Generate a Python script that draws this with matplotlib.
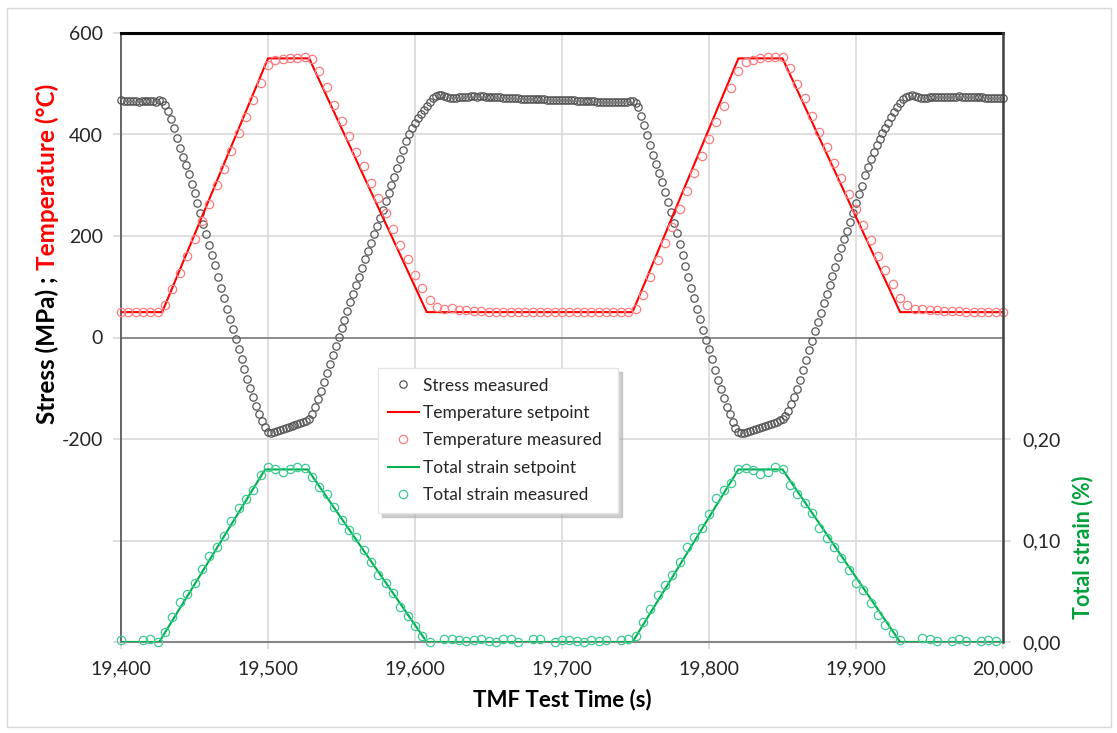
import numpy as np
import matplotlib.pyplot as plt
from matplotlib.patches import Rectangle

plt.rcParams["font.family"] = ["Lato", "DejaVu Sans"]

# ---- setpoints (s, value) ----
temp_set_time = [19400, 19428, 19500, 19528, 19608, 19748, 19820, 19850, 19930, 20000]
temp_set_value = [50, 50, 550, 550, 50, 50, 550, 550, 50, 50]

strain_set_time = [19400, 19426, 19498, 19527, 19608, 19748, 19820, 19850, 19930, 20000]
strain_set_value = [0, 0, 0.17, 0.17, 0, 0, 0.17, 0.17, 0, 0]

# ---- stress measured, one point every 2 s ----
stress_time = np.arange(19400, 20001, 2)
stress_value = [
    # 19400-19426
    467, 466, 466, 466, 466, 466, 465, 466, 466, 466, 466, 466, 465, 467,
    # 19428-19502
    466, 458, 446, 430, 412, 393, 374, 356, 340, 322,
    303, 285, 266, 245, 224, 204, 183, 162, 142, 120,
    98, 78, 57, 37, 17, -3, -23, -43, -62, -82,
    -100, -117, -135, -151, -165, -177, -186, -188,
    # 19504-19528
    -187, -185, -183, -181, -179, -177, -175, -173, -171, -169, -167, -164, -160,
    # 19530-19590
    -151, -137, -122, -106, -88, -70, -52, -34, -16, 1,
    18, 35, 52, 69, 86, 103, 120, 137, 154, 170,
    186, 203, 219, 235, 252, 268, 285, 301, 317, 334, 352,
    # 19592-19624
    370, 387, 400, 412, 423, 432, 441, 449, 457, 465, 471, 475, 477, 477, 475, 473, 472,
    # 19626-19748
    472, 472, 473, 473, 474, 474, 475, 475, 474, 475, 475, 474, 474, 474, 473, 473, 473, 472,
    472, 472, 471, 471, 471, 470, 470, 470, 470, 469, 469, 469, 469, 469, 468, 468, 468, 468, 468, 467,
    467, 467, 467, 467, 466, 466, 466, 466, 466, 466, 466, 465, 465, 465, 465, 465, 465, 465, 465, 465,
    465, 465, 466, 466,
    # 19750-19824
    462, 454, 436, 419, 399, 379, 360, 342, 324, 306,
    287, 267, 247, 226, 206, 184, 163, 141, 119, 98,
    78, 56, 36, 14, -4, -23, -42, -64, -84, -101,
    -119, -137, -151, -166, -178, -186, -188, -188,
    # 19826-19850
    -186, -184, -182, -180, -178, -176, -174, -172, -170, -168, -166, -163, -160,
    # 19852-19874
    -155, -145, -132, -117, -101, -84, -65, -45, -25, -6, 12, 30,
    # 19876-19938
    48, 68, 86, 103, 121, 139, 158, 176, 194, 210, 228, 245, 265, 283, 299, 320,
    336, 352, 366, 379, 391, 403, 413, 423, 434, 444, 454, 462, 470, 474, 476, 478,
    # 19940-20000
    476, 474, 472, 472, 472, 473, 473, 473, 474, 474, 474, 474, 474, 474, 474, 475,
    474, 474, 474, 474, 473, 473, 473, 473, 472, 472, 472, 472, 471, 471, 471,
]

# ---- temperature measured, one point every 5 s ----
temp_time = np.arange(19400, 20001, 5)
temp_value = [
    50, 50, 50, 50, 50, 50,
    64, 95, 128, 161, 194, 230, 264, 300, 333, 367, 402, 434, 467, 502, 536,
    547, 549, 551, 551, 553,
    548, 525, 493, 459, 426, 398, 366, 337, 304, 275, 245, 214, 182, 155, 123, 98, 74, 60,
    56, 58, 55, 54, 52, 52, 51, 51, 51, 50, 50, 50, 50,
    50, 50, 50, 50, 50, 50, 50, 50, 50, 50, 50, 50, 50,
    56, 84, 119, 153, 186, 218, 253, 289, 324, 358, 392, 425, 456, 491, 525,
    543, 547, 551, 553, 553, 553,
    531, 500, 472, 436, 405, 375, 344, 314, 283, 253, 222, 192, 161, 133, 105, 78, 64, 56,
    56, 55, 54, 53, 53, 52, 51, 50, 50, 50, 50, 50,
]

# ---- total strain measured (some samples missing on the flats) ----
strain_time = (
    [19400, 19415, 19420, 19425]
    + list(range(19430, 19611, 5))
    + [19620, 19625, 19630, 19635, 19640, 19645, 19650, 19655, 19660, 19665, 19670,
       19680, 19685, 19695, 19700, 19705, 19710, 19715, 19720, 19725, 19730, 19740, 19745]
    + list(range(19750, 19931, 5))
    + [19945, 19950, 19955, 19965, 19970, 19975, 19985, 19990, 19995]
)
strain_value = [
    0.002, 0.002, 0.003, 0.000,
    0.010, 0.025, 0.039, 0.047, 0.058, 0.072, 0.085, 0.094, 0.104, 0.119, 0.132, 0.141, 0.150, 0.165, 0.172,
    0.170, 0.167, 0.170, 0.172, 0.171,
    0.163, 0.153, 0.146, 0.133, 0.120, 0.110, 0.103, 0.091, 0.079, 0.066, 0.058, 0.048, 0.034, 0.026,
    0.016, 0.006, 0.000,
    0.003, 0.003, 0.002, 0.001, 0.002, 0.003, 0.001, 0.000, 0.003, 0.003, 0.000,
    0.003, 0.003, 0.000, 0.002, 0.002, 0.001, 0.000, 0.002, 0.001, 0.002, 0.002, 0.003,
    0.006, 0.020, 0.033, 0.046, 0.056, 0.066, 0.079, 0.094, 0.103, 0.112, 0.126, 0.142, 0.150, 0.157, 0.170,
    0.171, 0.169, 0.166, 0.167, 0.172, 0.170,
    0.155, 0.146, 0.137, 0.127, 0.112, 0.102, 0.094, 0.083, 0.071, 0.058, 0.051, 0.038, 0.027, 0.017,
    0.009, 0.002,
    0.004, 0.003, 0.001, 0.001, 0.003, 0.001, 0.001, 0.002, 0.001,
]

x_ticks = [19400, 19500, 19600, 19700, 19800, 19900, 20000]
y_ticks = [-600, -400, -200, 0, 200, 400, 600]
y_tick_labels = ["", "", "-200", "0", "200", "400", "600"]
strain_ticks = [0, 0.1, 0.2]
strain_tick_labels = ["0,00", "0,10", "0,20"]

RED = "#ff0000"
GREEN = "#00b050"
TXT = "#262626"
GRID = "#d9d9d9"

W, H = 1117, 733
fig = plt.figure(figsize=(W / 100, H / 100), dpi=100)
fig.patches.append(Rectangle((7 / W, 6 / H), 1104 / W, 719 / H, transform=fig.transFigure,
                             fill=False, edgecolor=GRID, lw=1))

ax = fig.add_axes([121 / W, 1 - 642 / H, 882 / W, 609 / H])
ax2 = ax.twinx()

# =========================
# DATA
# =========================
h_stress, = ax.plot(stress_time, stress_value, "o", ms=5.3, mfc="none", mec="#555555", mew=0.9,
                    clip_on=False, zorder=3)
h_tset, = ax.plot(temp_set_time, temp_set_value, color=RED, lw=1.5, zorder=4)
h_tmeas, = ax.plot(temp_time, temp_value, "o", ms=6, mfc="none", mec="#ff7c80", mew=0.9,
                   clip_on=False, zorder=5)
h_sset, = ax2.plot(strain_set_time, strain_set_value, color=GREEN, lw=1.5, zorder=4)
h_smeas, = ax2.plot(strain_time, strain_value, "o", ms=6, mfc="none", mec="#3ccb92", mew=0.9,
                    clip_on=False, zorder=5)

ax.axhline(0, color="#868686", lw=1.3, zorder=2)

# =========================
# AXES
# =========================
ax.set_xlim(19400, 20000)
ax.set_ylim(-600, 600)
ax2.set_ylim(0, 0.6)

ax.set_xticks(x_ticks)
ax.set_xticklabels([f"{v:,}" for v in x_ticks])
ax.set_yticks(y_ticks)
ax.set_yticklabels(y_tick_labels)
ax2.set_yticks(strain_ticks)
ax2.set_yticklabels(strain_tick_labels)

ax.grid(True, color=GRID, lw=1.2)
ax.set_axisbelow(True)

ax.tick_params(axis="x", direction="out", length=5, width=1.2, color=GRID,
               labelsize=14, labelcolor=TXT, pad=8)
ax.tick_params(axis="y", direction="out", length=6, width=1.2, color=GRID,
               labelsize=14, labelcolor=TXT, pad=7)
ax2.tick_params(axis="y", direction="out", length=6, width=1.2, color=GRID,
                labelsize=14, labelcolor=TXT, pad=8)
ax.yaxis.get_major_ticks()[3].tick1line.set_color("#868686")

for s in ["top", "right", "bottom", "left"]:
    ax2.spines[s].set_visible(False)
ax.spines["right"].set_visible(False)
ax.spines["top"].set_color("black")
ax.spines["top"].set_linewidth(2.2)
ax.spines["left"].set_color("#595959")
ax.spines["left"].set_linewidth(1.3)
ax.spines["bottom"].set_color("#868686")
ax.spines["bottom"].set_linewidth(1.5)
ax2.spines["right"].set_visible(True)
ax2.spines["right"].set_color("#404040")
ax2.spines["right"].set_linewidth(1.8)

# =========================
# LABELS
# =========================
fig.text(562 / W, 1 - 700 / H, "TMF Test Time (s)", ha="center", va="center",
         fontsize=16, fontweight="bold", color="black")
fig.text(1083 / W, 1 - 547 / H, "Total strain (%)", ha="center", va="center", rotation=90,
         fontsize=15.5, fontweight="bold", color="#00a03c")

# two-coloured left label: measure full string, then place both parts
ylab_x, ylab_y = 47 / W, 1 - 254 / H
full = fig.text(ylab_x, ylab_y, "Stress (MPa) ; Temperature (°C)", ha="center", va="center",
                rotation=90, fontsize=17.5, fontweight="bold", alpha=0)
renderer = fig.canvas.get_renderer()
bb = full.get_window_extent(renderer).transformed(fig.transFigure.inverted())
fig.text(ylab_x, bb.y0, "Stress (MPa) ;", ha="center", va="bottom", rotation=90,
         fontsize=17.5, fontweight="bold", color="black")
fig.text(ylab_x, bb.y1, "Temperature (°C)", ha="center", va="top", rotation=90,
         fontsize=17.5, fontweight="bold", color=RED)

# =========================
# LEGEND
# =========================
leg = ax2.legend(
    [h_stress, h_tset, h_tmeas, h_sset, h_smeas],
    ["Stress measured", "Temperature setpoint", "Temperature measured",
     "Total strain setpoint", "Total strain measured"],
    loc="upper left", bbox_to_anchor=(378 / W, 1 - 515 / H, 240 / W, 147 / H),
    bbox_transform=fig.transFigure, mode="expand", borderaxespad=0,
    fontsize=12.5, handlelength=1.8, handletextpad=0.25, labelspacing=0.66, borderpad=0.55,
    numpoints=1, fancybox=False, framealpha=1, edgecolor="#e6e6e6",
    shadow={"ox": 3, "oy": -3, "color": "#b0b0b0", "alpha": 0.6},
)
for t in leg.get_texts():
    t.set_color(TXT)

fig.savefig("out.png", dpi=100)
